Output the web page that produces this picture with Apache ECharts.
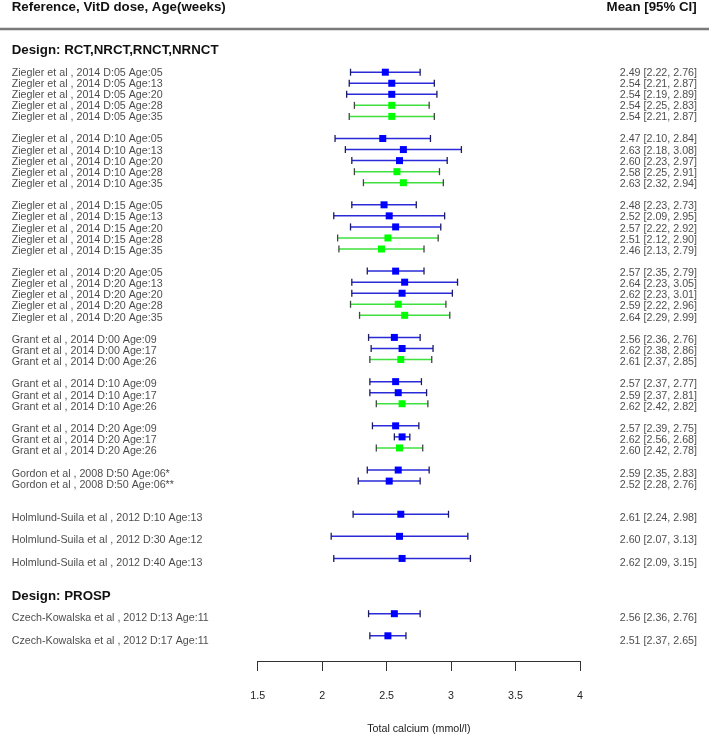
<!DOCTYPE html>
<html>
<head>
<meta charset="utf-8">
<script src="https://cdn.jsdelivr.net/npm/echarts@6/dist/echarts.min.js"></script>
<style>html,body{margin:0;padding:0;background:#fff}#c{width:709px;height:740px}</style>
</head>
<body>
<div id="c"></div>
<script>
// ---- data ----
const studyLabels = [
  'Ziegler et al , 2014 D:05 Age:05','Ziegler et al , 2014 D:05 Age:13','Ziegler et al , 2014 D:05 Age:20','Ziegler et al , 2014 D:05 Age:28','Ziegler et al , 2014 D:05 Age:35',
  'Ziegler et al , 2014 D:10 Age:05','Ziegler et al , 2014 D:10 Age:13','Ziegler et al , 2014 D:10 Age:20','Ziegler et al , 2014 D:10 Age:28','Ziegler et al , 2014 D:10 Age:35',
  'Ziegler et al , 2014 D:15 Age:05','Ziegler et al , 2014 D:15 Age:13','Ziegler et al , 2014 D:15 Age:20','Ziegler et al , 2014 D:15 Age:28','Ziegler et al , 2014 D:15 Age:35',
  'Ziegler et al , 2014 D:20 Age:05','Ziegler et al , 2014 D:20 Age:13','Ziegler et al , 2014 D:20 Age:20','Ziegler et al , 2014 D:20 Age:28','Ziegler et al , 2014 D:20 Age:35',
  'Grant et al , 2014 D:00 Age:09','Grant et al , 2014 D:00 Age:17','Grant et al , 2014 D:00 Age:26',
  'Grant et al , 2014 D:10 Age:09','Grant et al , 2014 D:10 Age:17','Grant et al , 2014 D:10 Age:26',
  'Grant et al , 2014 D:20 Age:09','Grant et al , 2014 D:20 Age:17','Grant et al , 2014 D:20 Age:26',
  'Gordon et al , 2008 D:50 Age:06*','Gordon et al , 2008 D:50 Age:06**',
  'Holmlund-Suila et al , 2012 D:10 Age:13',
  'Holmlund-Suila et al , 2012 D:30 Age:12',
  'Holmlund-Suila et al , 2012 D:40 Age:13',
  'Czech-Kowalska et al , 2012 D:13 Age:11',
  'Czech-Kowalska et al , 2012 D:17 Age:11'
];
const means = [2.49,2.54,2.54,2.54,2.54, 2.47,2.63,2.60,2.58,2.63, 2.48,2.52,2.57,2.51,2.46, 2.57,2.64,2.62,2.59,2.64, 2.56,2.62,2.61, 2.57,2.59,2.62, 2.57,2.62,2.60, 2.59,2.52, 2.61, 2.60, 2.62, 2.56, 2.51];
const lows  = [2.22,2.21,2.19,2.25,2.21, 2.10,2.18,2.23,2.25,2.32, 2.23,2.09,2.22,2.12,2.13, 2.35,2.23,2.23,2.22,2.29, 2.36,2.38,2.37, 2.37,2.37,2.42, 2.39,2.56,2.42, 2.35,2.28, 2.24, 2.07, 2.09, 2.36, 2.37];
const highs = [2.76,2.87,2.89,2.83,2.87, 2.84,3.08,2.97,2.91,2.94, 2.73,2.95,2.92,2.90,2.79, 2.79,3.05,3.01,2.96,2.99, 2.76,2.86,2.85, 2.77,2.81,2.82, 2.75,2.68,2.78, 2.83,2.76, 2.98, 3.13, 3.15, 2.76, 2.65];
const highlighted = [0,0,0,1,1, 0,0,0,1,1, 0,0,0,1,1, 0,0,0,1,1, 0,0,1, 0,0,1, 0,0,1, 0,0, 0, 0, 0, 0, 0];
const xTicks = [1.5, 4, 0.5]; // min, max, interval
const headerLeft = 'Reference, VitD dose, Age(weeks)';
const headerRight = 'Mean [95% CI]';
const sections = ['Design: RCT,NRCT,RNCT,NRNCT', 'Design: PROSP'];
const axisTitle = 'Total calcium (mmol/l)';

// ---- layout (row slots) ----
const groupSizes = [5,5,5,5,3,3,3,2,1,1,1,1,1];
const gapsBefore = [0,1,1,1,1,1,1,1,2,1,1,4,1];
const rowPos = [];
{ let r = 0; groupSizes.forEach((n,g)=>{ r += gapsBefore[g]; for(let i=0;i<n;i++){ rowPos.push(r); r++; } }); }

const FONT = '"Liberation Sans", Arial, sans-serif';
const yMin = -6, yMax = 53.28;
const chart = echarts.init(document.getElementById('c'));

const barData = means.map((m,i)=>[lows[i], highs[i], m, rowPos[i], highlighted[i]]);
const leftText = studyLabels.map((s,i)=>({value:[11.7, rowPos[i]], name:s}));
const rightText = means.map((m,i)=>({value:[697, rowPos[i]], name: m.toFixed(2)+' ['+lows[i].toFixed(2)+', '+highs[i].toFixed(2)+']'}));

chart.setOption({
  animation:false,
  backgroundColor:'#fff',
  grid:[
    {left:257.7, right:129, top:5.9, bottom:74},
    {left:0, right:0, top:5.9, bottom:74}
  ],
  xAxis:[
    {gridIndex:0, type:'value', position:'bottom', min:xTicks[0], max:xTicks[1], interval:xTicks[2],
     splitLine:{show:false},
     axisLine:{show:true, onZero:false, lineStyle:{color:'#333', width:1}},
     axisTick:{show:true, inside:false, length:10, lineStyle:{color:'#333', width:1}},
     axisLabel:{margin:30, color:'#222', fontSize:10.7, fontFamily:FONT},
     name:axisTitle, nameLocation:'middle', nameGap:63,
     nameTextStyle:{color:'#222', fontSize:10.7, fontFamily:FONT}},
    {gridIndex:1, type:'value', min:0, max:709, show:false}
  ],
  yAxis:[
    {gridIndex:0, type:'value', min:yMin, max:yMax, inverse:true, show:false},
    {gridIndex:1, type:'value', min:yMin, max:yMax, inverse:true, show:false}
  ],
  graphic:[
    {type:'text', left:11.7, top:1, style:{text:headerLeft, font:'bold 13.3px '+FONT, fill:'#111'}},
    {type:'text', right:12.3, top:1, style:{text:headerRight, font:'bold 13.3px '+FONT, fill:'#111'}},
    {type:'line', shape:{x1:0,y1:29,x2:709,y2:29}, style:{stroke:'#7a7a7a', lineWidth:2.5}},
    {type:'text', left:11.7, top:44, style:{text:sections[0], font:'bold 13.3px '+FONT, fill:'#111'}},
    {type:'text', left:11.7, top:590, style:{text:sections[1], font:'bold 13.3px '+FONT, fill:'#111'}}
  ],
  series:[
    {type:'custom', xAxisIndex:0, yAxisIndex:0, clip:false, data:barData,
     renderItem:function(params, api){
       const lo = api.coord([api.value(0), api.value(3)]);
       const hi = api.coord([api.value(1), api.value(3)]);
       const md = api.coord([api.value(2), api.value(3)]);
       const g = api.value(4) === 1;
       const lineC = g ? '#3ee03e' : '#2a2ad8';
       const capC = g ? '#3c4a3c' : '#1c1c60';
       const sq = g ? '#00ff00' : '#0000ff';
       const h = 3.5, s = 7;
       return {type:'group', children:[
         {type:'line', shape:{x1:lo[0],y1:lo[1],x2:hi[0],y2:hi[1]}, style:{stroke:lineC, lineWidth:1.5}},
         {type:'line', shape:{x1:lo[0],y1:lo[1]-h,x2:lo[0],y2:lo[1]+h}, style:{stroke:capC, lineWidth:1.3}},
         {type:'line', shape:{x1:hi[0],y1:hi[1]-h,x2:hi[0],y2:hi[1]+h}, style:{stroke:capC, lineWidth:1.3}},
         {type:'rect', shape:{x:md[0]-s/2, y:md[1]-s/2, width:s, height:s}, style:{fill:sq}}
       ]};
     }},
    {type:'scatter', xAxisIndex:1, yAxisIndex:1, symbolSize:0, data:leftText, silent:true,
     label:{show:true, position:'right', distance:0, formatter:'{b}', color:'#1a1a1a', fontSize:10.7, fontFamily:FONT}},
    {type:'scatter', xAxisIndex:1, yAxisIndex:1, symbolSize:0, data:rightText, silent:true,
     label:{show:true, position:'left', distance:0, formatter:'{b}', color:'#1a1a1a', fontSize:10.7, fontFamily:FONT}}
  ]
});
</script>
</body>
</html>
